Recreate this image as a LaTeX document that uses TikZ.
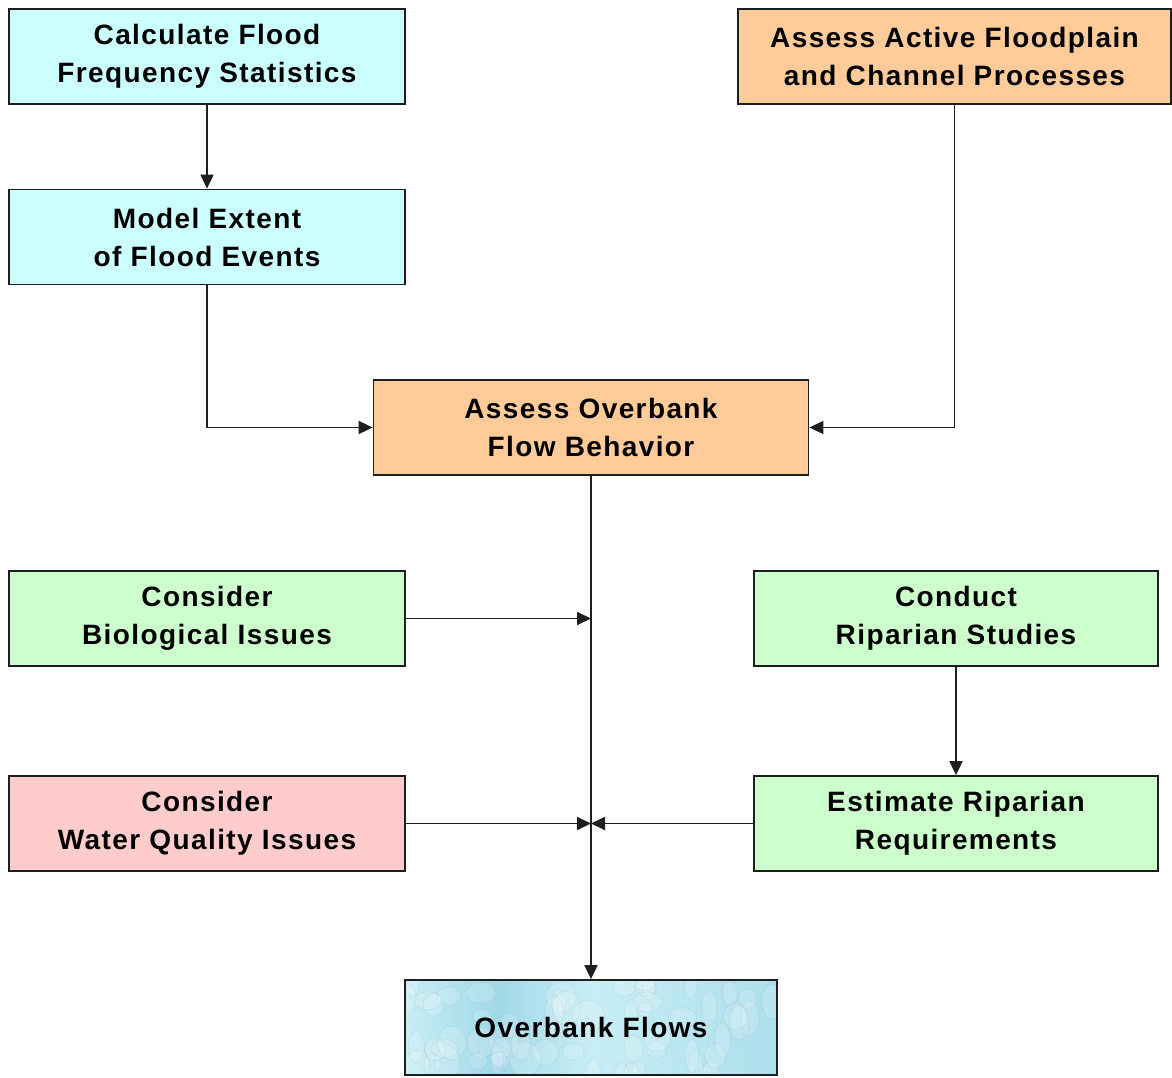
\documentclass[tikz,border=0pt]{standalone}
\usepackage{fontspec}
\setmainfont{Liberation Sans}[LetterSpace=5]
\usetikzlibrary{arrows.meta,positioning}
\definecolor{cyanfill}{RGB}{204,255,255}
\definecolor{orangefill}{RGB}{255,204,153}
\definecolor{greenfill}{RGB}{204,255,204}
\definecolor{pinkfill}{RGB}{255,204,204}
\definecolor{waterA}{RGB}{200,238,245}
\definecolor{waterB}{RGB}{160,216,232}
\definecolor{edge}{RGB}{30,30,30}
\tikzset{
  box/.style={draw=edge, line width=1.8pt, minimum width=396pt, minimum height=95pt,
    inner sep=0pt, align=center, font=\fontsize{28}{38}\selectfont\bfseries},
  arr/.style={draw=edge, line width=1.8pt, -{Triangle[length=14pt,width=13pt]}},
}
\begin{document}
\begin{tikzpicture}[x=1pt,y=-1pt]
\useasboundingbox (0,0) rectangle (1172,1078);
\fill[white] (0,0) rectangle (1172,1078);

% process boxes
\node[box, fill=cyanfill] (calc) at (207,56.5) {Calculate Flood\\Frequency Statistics};
\node[box, fill=cyanfill] (model) at (207,237) {Model Extent\\of Flood Events};
\node[box, fill=orangefill, minimum width=433pt] (active) at (954.5,56.5) {Assess Active Floodplain\\and Channel Processes};
\node[box, fill=orangefill, minimum width=435pt] (over) at (591,427.5) {Assess Overbank\\Flow Behavior};
\node[box, fill=greenfill] (bio) at (207,618.5) {Consider\\Biological Issues};
\node[box, fill=greenfill, minimum width=404pt] (conduct) at (956,618.5) {Conduct\\Riparian Studies};
\node[box, fill=pinkfill] (wq) at (207,823.5) {Consider\\Water Quality Issues};
\node[box, fill=greenfill, minimum width=404pt] (est) at (956,823.5) {Estimate Riparian\\Requirements};

% result box with a water-drop texture
\begin{scope}
  \clip (405,980) rectangle (777,1075);
  \shade[left color=waterA, right color=waterA, middle color=waterB] (405,980) rectangle (591,1075);
  \shade[left color=waterA, right color=waterB!70!waterA] (591,980) rectangle (777,1075);
  \pgfmathsetseed{7}
  \foreach \i in {1,...,60}{
    \pgfmathsetmacro{\px}{405+372*rnd}
    \pgfmathsetmacro{\py}{980+95*rnd}
    \pgfmathsetmacro{\rx}{6+10*rnd}
    \pgfmathsetmacro{\ry}{7+11*rnd}
    \fill[white, opacity=0.16] (\px,\py) ellipse [x radius=\rx, y radius=\ry];
    \draw[waterB!70!black, opacity=0.12, line width=0.8pt] (\px,\py) ellipse [x radius=\rx, y radius=\ry];
  }
\end{scope}
\node[box, minimum width=372pt] (flows) at (591,1027.5) {Overbank Flows};

% junction points on the main flow line
\coordinate (jbio) at (591,618.5);
\coordinate (jwq) at (591,823.5);

% connectors
\draw[arr] (calc) -- (model);
\draw[arr] (model.south) |- (over.west);
\draw[arr] (active.south) |- (over.east);
\draw[arr] (over) -- (flows);
\draw[arr] (bio) -- (jbio);
\draw[arr] (wq) -- (jwq);
\draw[arr] (est) -- (jwq);
\draw[arr] (conduct) -- (est);
\end{tikzpicture}
\end{document}
